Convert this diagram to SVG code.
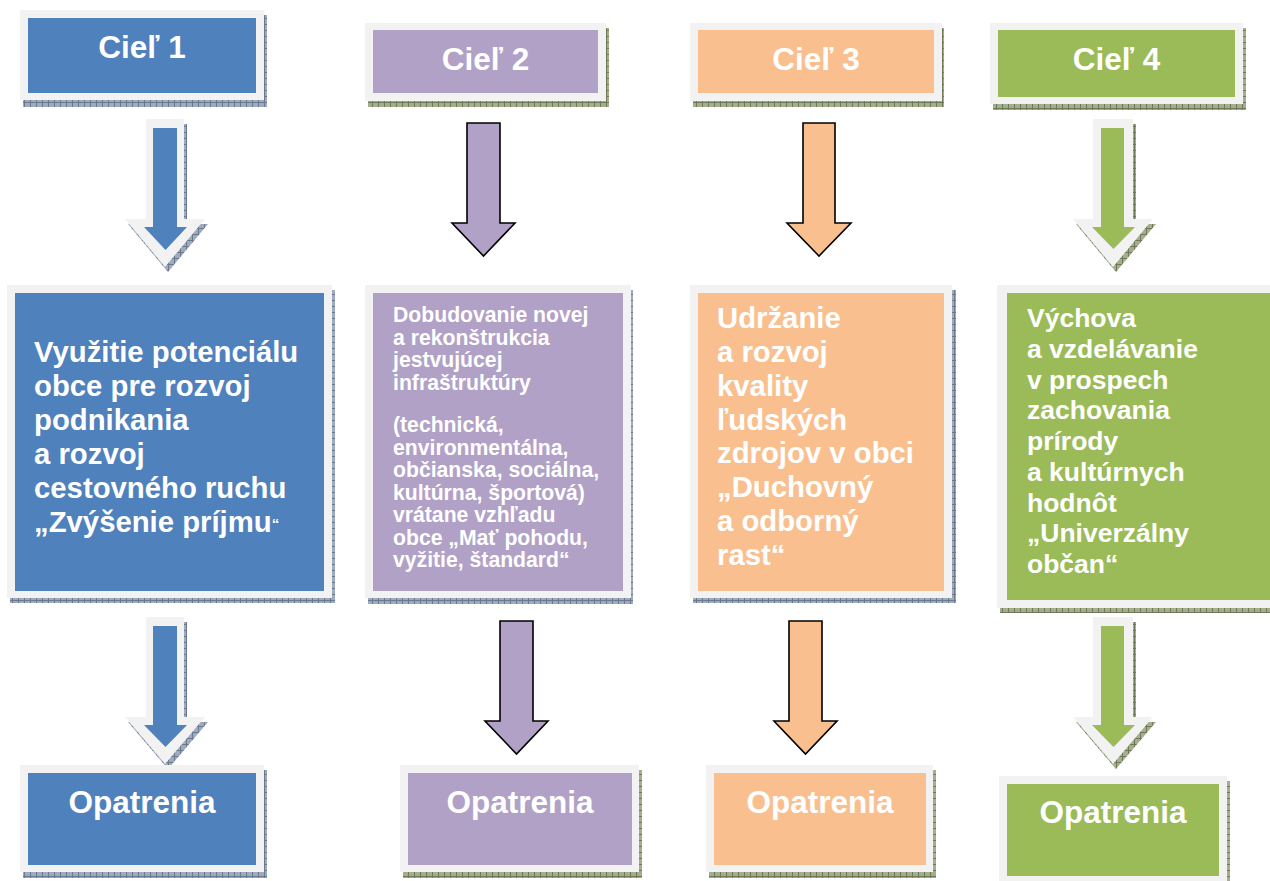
<svg xmlns="http://www.w3.org/2000/svg" width="1270" height="881" viewBox="0 0 1270 881">
<style>
.fr{fill:#F2F2F2}
.b{fill:#4F81BD}.p{fill:#B2A1C7}.o{fill:#F9BF8F}.g{fill:#9BBB59}
.shb{fill:url(#hb)}.shg{fill:url(#hg)}
.t{font-family:"Liberation Sans",Arial,sans-serif;font-weight:bold;fill:#FFFFFF}
.h{font-size:31.5px;text-anchor:middle}
.ao{stroke:#000;stroke-width:1.6;stroke-linejoin:miter}
</style>
<defs>
<pattern id="hb" width="6" height="6" patternUnits="userSpaceOnUse"><rect width="6" height="6" fill="#9EABBD"/><path d="M0 0.5H6M0.5 0V6" stroke="#6A7990" stroke-width="1"/></pattern>
<pattern id="hg" width="6" height="6" patternUnits="userSpaceOnUse"><rect width="6" height="6" fill="#A4AD8E"/><path d="M0 0.5H6M0.5 0V6" stroke="#6D7A55" stroke-width="1"/></pattern>
</defs>
<rect width="1270" height="881" fill="#FFFFFF"/>

<g id="ciel1">
<rect class="shb" x="23" y="15" width="244" height="92"/>
<rect class="fr" x="20" y="10" width="244" height="90"/>
<rect class="b" x="28" y="18" width="228" height="75"/>
<text class="t h" x="142" y="58">Cieľ 1</text>
</g>
<g id="ciel2">
<rect class="shg" x="368" y="28" width="241" height="79"/>
<rect class="fr" x="365" y="23" width="241" height="78"/>
<rect class="p" x="373" y="30" width="225" height="63"/>
<text class="t h" x="485.5" y="70">Cieľ 2</text>
</g>
<g id="ciel3">
<rect class="shg" x="693" y="28" width="251" height="79"/>
<rect class="fr" x="690" y="23" width="252" height="78"/>
<rect class="o" x="698" y="30" width="236" height="63"/>
<text class="t h" x="816" y="70">Cieľ 3</text>
</g>
<g id="ciel4">
<rect class="shg" x="993" y="28" width="253" height="82"/>
<rect class="fr" x="990" y="23" width="253" height="81"/>
<rect class="g" x="998" y="30" width="237" height="67"/>
<text class="t h" x="1116.5" y="70">Cieľ 4</text>
</g>

<g id="connectors">
<g id="arrow1a">
<polygon class="shb" points="149,124 187,124 187,224 208,224 168,272 128,224 149,224"/>
<polygon class="fr" points="146,119 184,119 184,219 205,219 165,267 125,219 146,219"/>
<polygon class="b" points="153,128 177,128 177,227 187,227 165.5,250 144,227 153,227"/>
</g>
<g id="arrow1b">
<polygon class="shb" points="149,622 187,622 187,722 208,722 168,769 128,722 149,722"/>
<polygon class="fr" points="146,617 184,617 184,717 205,717 165,764 125,717 146,717"/>
<polygon class="b" points="153,626 177,626 177,725 187,725 165.5,747 144,725 153,725"/>
</g>
<polygon id="arrow2a" class="p ao" points="467,123 500,123 500,223 515,223 483.5,256 452,223 467,223"/>
<polygon id="arrow2b" class="p ao" points="500,621 533,621 533,721 548,721 516.5,754 485,721 500,721"/>
<polygon id="arrow3a" class="o ao" points="803,123 835,123 835,223 851,223 819,256 787,223 803,223"/>
<polygon id="arrow3b" class="o ao" points="789,621 822,621 822,721 837,721 805.5,754 774,721 789,721"/>
<g id="arrow4a">
<polygon class="shg" points="1096,124 1136,124 1136,224 1156,224 1116,272 1076,224 1096,224"/>
<polygon class="fr" points="1093,119 1133,119 1133,219 1153,219 1113,267 1073,219 1093,219"/>
<polygon class="g" points="1101,128 1124,128 1124,227 1135,227 1113.5,249 1092,227 1101,227"/>
</g>
<g id="arrow4b">
<polygon class="shg" points="1096,622 1136,622 1136,722 1156,722 1116,769 1076,722 1096,722"/>
<polygon class="fr" points="1093,617 1133,617 1133,717 1153,717 1113,764 1073,717 1093,717"/>
<polygon class="g" points="1101,626 1124,626 1124,725 1135,725 1113.5,747 1092,725 1101,725"/>
</g>
</g>

<g id="ciel1-popis">
<rect class="shb" x="10" y="290" width="325" height="313"/>
<rect class="fr" x="7" y="285" width="325" height="313"/>
<rect class="b" x="15" y="293" width="309" height="298"/>
<text class="t" font-size="29.3" x="34">
<tspan x="34" y="362">Využitie potenciálu</tspan>
<tspan x="34" y="396">obce pre rozvoj</tspan>
<tspan x="34" y="430">podnikania</tspan>
<tspan x="34" y="464">a rozvoj</tspan>
<tspan x="34" y="498">cestovného ruchu</tspan>
<tspan x="34" y="532">„Zvýšenie príjmu<tspan font-size="15" dy="-3">“</tspan></tspan>
</text>
</g>
<g id="ciel2-popis">
<rect class="shb" x="368" y="290" width="265" height="314"/>
<rect class="fr" x="365" y="285" width="266" height="313"/>
<rect class="p" x="373" y="293" width="250" height="298"/>
<text class="t" font-size="21.2" x="393">
<tspan x="393" y="322">Dobudovanie novej</tspan>
<tspan x="393" y="344.5">a rekonštrukcia</tspan>
<tspan x="393" y="367">jestvujúcej</tspan>
<tspan x="393" y="389.5">infraštruktúry</tspan>
<tspan x="393" y="432">(technická,</tspan>
<tspan x="393" y="454.5">environmentálna,</tspan>
<tspan x="393" y="477">občianska, sociálna,</tspan>
<tspan x="393" y="499.5">kultúrna, športová)</tspan>
<tspan x="393" y="522">vrátane vzhľadu</tspan>
<tspan x="393" y="544.5">obce „Mať pohodu,</tspan>
<tspan x="393" y="567">vyžitie, štandard“</tspan>
</text>
</g>
<g id="ciel3-popis">
<rect class="shb" x="693" y="290" width="263" height="313"/>
<rect class="fr" x="690" y="285" width="262" height="313"/>
<rect class="o" x="698" y="293" width="246" height="298"/>
<text class="t" font-size="29.3" x="717">
<tspan x="717" y="328">Udržanie</tspan>
<tspan x="717" y="362">a rozvoj</tspan>
<tspan x="717" y="396">kvality</tspan>
<tspan x="717" y="430">ľudských</tspan>
<tspan x="717" y="463">zdrojov v obci</tspan>
<tspan x="717" y="497">„Duchovný</tspan>
<tspan x="717" y="531">a odborný</tspan>
<tspan x="717" y="565">rast“</tspan>
</text>
</g>
<g id="ciel4-popis">
<rect class="shg" x="1000" y="290" width="280" height="323"/>
<rect class="fr" x="997" y="285" width="283" height="323"/>
<rect class="g" x="1007" y="293" width="273" height="307"/>
<text class="t" font-size="26.5" x="1027">
<tspan x="1027" y="327">Výchova</tspan>
<tspan x="1027" y="358">a vzdelávanie</tspan>
<tspan x="1027" y="389">v prospech</tspan>
<tspan x="1027" y="419">zachovania</tspan>
<tspan x="1027" y="450">prírody</tspan>
<tspan x="1027" y="481">a kultúrnych</tspan>
<tspan x="1027" y="512">hodnôt</tspan>
<tspan x="1027" y="542">„Univerzálny</tspan>
<tspan x="1027" y="573">občan“</tspan>
</text>
</g>

<g id="opatrenia1">
<rect class="shb" x="23" y="770" width="244" height="108"/>
<rect class="fr" x="20" y="765" width="244" height="107"/>
<rect class="b" x="28" y="773" width="228" height="92"/>
<text class="t h" x="142" y="813">Opatrenia</text>
</g>
<g id="opatrenia2">
<rect class="shg" x="403" y="770" width="239" height="108"/>
<rect class="fr" x="400" y="765" width="239" height="107"/>
<rect class="p" x="408" y="773" width="224" height="92"/>
<text class="t h" x="520" y="813">Opatrenia</text>
</g>
<g id="opatrenia3">
<rect class="shg" x="709" y="770" width="227" height="108"/>
<rect class="fr" x="706" y="765" width="227" height="107"/>
<rect class="o" x="714" y="773" width="212" height="92"/>
<text class="t h" x="820" y="813">Opatrenia</text>
</g>
<g id="opatrenia4">
<rect class="shg" x="1002" y="781" width="228" height="110"/>
<rect class="fr" x="999" y="776" width="228" height="110"/>
<rect class="g" x="1007" y="784" width="212" height="92"/>
<text class="t h" x="1113" y="823">Opatrenia</text>
</g>
</svg>
